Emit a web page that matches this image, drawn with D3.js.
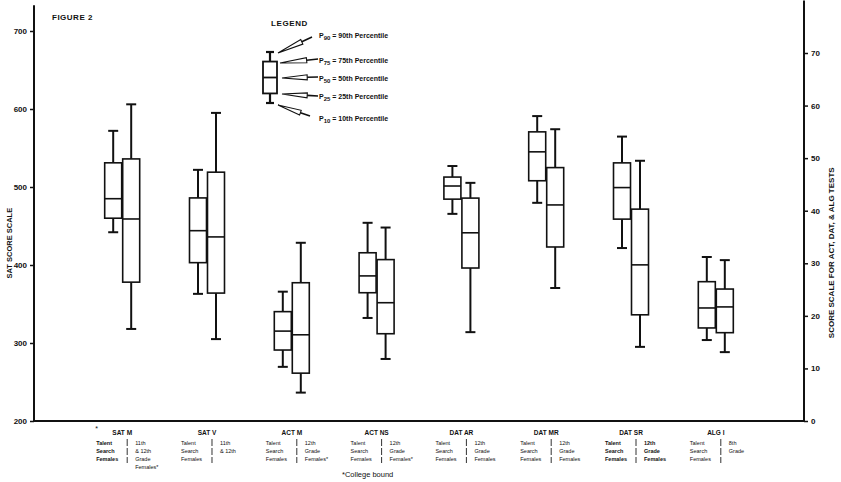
<!DOCTYPE html>
<html>
<head>
<meta charset="utf-8">
<script src="https://d3js.org/d3.v7.min.js"></script>
<style>
  body { margin: 0; background: #fff; }
  text { font-family: "Liberation Sans", Arial, sans-serif; fill: #111; }
</style>
</head>
<body>
<div id="cont"></div>
<script>
// test categories, left two are on the SAT scale, the rest on the right-hand scale
var categories = ["SAT M", "SAT V", "ACT M", "ACT NS", "DAT AR", "DAT MR", "DAT SR", "ALG I"];
var onSatScale = [true, true, false, false, false, false, false, false];

// percentiles P10, P25, P50, P75, P90
var talentSearch = [
    [442, 460, 485, 531, 572],
    [363, 403, 444, 486, 522],
    [10.3, 13.5, 17.1, 20.8, 24.6],
    [19.6, 24.4, 27.6, 32.0, 37.7],
    [39.4, 42.2, 44.7, 46.4, 48.5],
    [41.5, 45.7, 51.2, 55.0, 58.0],
    [32.9, 38.4, 44.4, 49.1, 54.1],
    [15.4, 17.7, 21.5, 26.5, 31.2]
];
var comparison = [
    [318, 378, 459, 536, 606],
    [305, 364, 436, 519, 595],
    [5.4, 9.1, 16.4, 26.3, 33.9],
    [11.8, 16.6, 22.5, 30.7, 36.8],
    [16.9, 29.1, 35.8, 42.4, 45.3],
    [25.3, 33.1, 41.1, 48.2, 55.5],
    [14.1, 20.2, 29.7, 40.3, 49.5],
    [13.1, 16.8, 21.7, 25.1, 30.6]
];

// group labels under the axis
var leftLabels = [
    ["Talent", "Search", "Females"],
    ["Talent", "Search", "Females"],
    ["Talent", "Search", "Females"],
    ["Talent", "Search", "Females"],
    ["Talent", "Search", "Females"],
    ["Talent", "Search", "Females"],
    ["Talent", "Search", "Females"],
    ["Talent", "Search", "Females"]
];
var rightLabels = [
    ["11th", "& 12th", "Grade", "Females*"],
    ["11th", "& 12th"],
    ["12th", "Grade", "Females*"],
    ["12th", "Grade", "Females*"],
    ["12th", "Grade", "Females"],
    ["12th", "Grade", "Females"],
    ["12th", "Grade", "Females"],
    ["8th", "Grade"]
];

var satTicks = [200, 300, 400, 500, 600, 700];
var scoreTicks = [0, 10, 20, 30, 40, 50, 60, 70];
var legendPct = ["90", "75", "50", "25", "10"];

var width = 841, height = 482;
var svg = d3.select("#cont").append("svg")
    .attr("width", width)
    .attr("height", height);

var x = d3.scalePoint()
    .domain(categories)
    .range([34, 804])
    .padding(1.04);

var ySat = d3.scaleLinear().domain([200, 700]).range([421, 31]);
var yScore = d3.scaleLinear().domain([0, 70]).range([421, 53]);

// axes
var leftAxis = svg.append("g")
    .attr("transform", "translate(34,0)")
    .call(d3.axisLeft(ySat).tickValues(satTicks).tickSize(4).tickPadding(3).tickFormat(d3.format("d")));
var rightAxis = svg.append("g")
    .attr("transform", "translate(804,0)")
    .call(d3.axisRight(yScore).tickValues(scoreTicks).tickSize(4).tickPadding(3).tickFormat(d3.format("d")));
[leftAxis, rightAxis].forEach(function(a) {
    a.select(".domain").remove();
    a.selectAll("line").attr("stroke", "#111").attr("stroke-width", 1.5);
    a.selectAll("text")
        .style("font-size", "8px")
        .style("font-weight", "bold")
        .attr("fill", "#111");
});

svg.append("line")
    .attr("x1", 34).attr("x2", 34)
    .attr("y1", ySat(200)).attr("y2", ySat(733))
    .attr("stroke", "#111").attr("stroke-width", 2);
svg.append("line")
    .attr("x1", 804).attr("x2", 804)
    .attr("y1", yScore(0)).attr("y2", yScore(80))
    .attr("stroke", "#111").attr("stroke-width", 2);
svg.append("line")
    .attr("x1", x.range()[0]).attr("x2", x.range()[1])
    .attr("y1", ySat(200)).attr("y2", ySat(200))
    .attr("stroke", "#111").attr("stroke-width", 2);

// axis titles
svg.append("text")
    .attr("transform", "translate(12," + ySat(428) + ") rotate(-90)")
    .attr("text-anchor", "middle")
    .style("font-size", "7.5px").style("font-weight", "bold")
    .text("SAT SCORE SCALE");
svg.append("text")
    .attr("transform", "translate(834," + yScore(32) + ") rotate(-90)")
    .attr("text-anchor", "middle")
    .style("font-size", "8px").style("font-weight", "bold")
    .text("SCORE SCALE FOR ACT, DAT, & ALG TESTS");

svg.append("text")
    .attr("x", 52).attr("y", 20)
    .style("font-size", "8px").style("font-weight", "bold")
    .style("letter-spacing", "0.5px")
    .text("FIGURE 2");

// boxes
var boxes = [];
categories.forEach(function(c, i) {
    var sc = onSatScale[i] ? ySat : yScore;
    boxes.push({ cat: c, side: -1, p: talentSearch[i], y: sc });
    boxes.push({ cat: c, side: 1, p: comparison[i], y: sc });
});

var boxW = 17, capW = 10;
var g = svg.append("g").selectAll("g")
    .data(boxes)
    .enter().append("g")
    .attr("transform", function(d) {
        return "translate(" + (x(d.cat) + d.side * (boxW / 2 + 0.5)) + ",0)";
    });

function drawBox(sel, w, cw, lw) {
    // whiskers
    sel.append("line")
        .attr("x1", 0).attr("x2", 0)
        .attr("y1", function(d) { return d.y(d.p[4]); })
        .attr("y2", function(d) { return d.y(d.p[3]); })
        .attr("stroke", "#111").attr("stroke-width", lw + 0.4);
    sel.append("line")
        .attr("x1", 0).attr("x2", 0)
        .attr("y1", function(d) { return d.y(d.p[1]); })
        .attr("y2", function(d) { return d.y(d.p[0]); })
        .attr("stroke", "#111").attr("stroke-width", lw + 0.4);
    [0, 4].forEach(function(k) {
        sel.append("line")
            .attr("x1", -cw / 2).attr("x2", cw / 2)
            .attr("y1", function(d) { return d.y(d.p[k]); })
            .attr("y2", function(d) { return d.y(d.p[k]); })
            .attr("stroke", "#111").attr("stroke-width", lw + 0.4);
    });
    sel.append("rect")
        .attr("x", -w / 2).attr("width", w)
        .attr("y", function(d) { return d.y(d.p[3]); })
        .attr("height", function(d) { return d.y(d.p[1]) - d.y(d.p[3]); })
        .attr("fill", "#fff")
        .attr("stroke", "#111").attr("stroke-width", lw);
    sel.append("line")
        .attr("x1", -w / 2).attr("x2", w / 2)
        .attr("y1", function(d) { return d.y(d.p[2]); })
        .attr("y2", function(d) { return d.y(d.p[2]); })
        .attr("stroke", "#111").attr("stroke-width", lw);
}
drawBox(g, boxW, capW, 1.6);

// labels under the axis
var lab = svg.append("g").selectAll("g")
    .data(categories)
    .enter().append("g")
    .attr("transform", function(d) { return "translate(" + x(d) + ",0)"; });

lab.append("text")
    .attr("x", 0).attr("y", 435)
    .attr("text-anchor", "middle")
    .style("font-size", "6.5px").style("font-weight", "bold")
    .text(function(d) { return d; });

lab.append("line")
    .attr("x1", 5).attr("x2", 5)
    .attr("y1", 439).attr("y2", 463)
    .attr("stroke", "#333").attr("stroke-width", 1)
    .attr("stroke-dasharray", "7,2");

lab.each(function(d, i) {
    var el = d3.select(this);
    leftLabels[i].forEach(function(t, r) {
        el.append("text")
            .attr("x", -26).attr("y", 445 + r * 8)
            .style("font-size", "5.5px")
            .attr("fill", "#333")
            .style("font-weight", i === 0 || i === 6 ? "bold" : "normal")
            .text(t);
    });
    rightLabels[i].forEach(function(t, r) {
        el.append("text")
            .attr("x", 13).attr("y", 445 + r * 8)
            .style("font-size", "5.5px")
            .attr("fill", "#333")
            .style("font-weight", i === 6 ? "bold" : "normal")
            .text(t);
    });
});

svg.append("text")
    .attr("x", x(categories[0]) - 27).attr("y", 431)
    .style("font-size", "7px")
    .text("*");

svg.append("text")
    .attr("x", 342).attr("y", 477)
    .style("font-size", "7.5px")
    .text("*College bound");

// legend
var legX = 270;
var ly = d3.scaleLinear().domain([10, 90]).range([103, 52]);
var legBox = svg.append("g").attr("transform", "translate(" + legX + ",0)")
    .datum({ p: [10, 25, 50, 75, 90], y: ly });
drawBox(legBox, 14, 8, 1.8);

svg.append("text")
    .attr("x", 271).attr("y", 26)
    .style("font-size", "8px").style("font-weight", "bold")
    .style("letter-spacing", "0.6px")
    .text("LEGEND");

var legText = [38, 63, 81, 99, 121];
var legTip = [[278, 53], [280, 63], [282, 78], [282, 94], [278, 105]];
var legTail = [[312, 37], [318, 59], [318, 77], [318, 96], [310, 116]];

legendPct.forEach(function(p, i) {
    var t = svg.append("text")
        .attr("x", 319).attr("y", legText[i])
        .style("font-size", "7px").style("font-weight", "bold");
    t.append("tspan").text("P");
    t.append("tspan").attr("dy", 2).style("font-size", "6px").text(p);
    t.append("tspan").attr("dy", -2).text(" = " + p + "th Percentile");

    // pointer: long thin arrowhead with a short shaft
    var a = legTip[i], b = legTail[i];
    var dx = b[0] - a[0], dy = b[1] - a[1];
    var len = Math.sqrt(dx * dx + dy * dy);
    var ux = dx / len, uy = dy / len, nx = -uy, ny = ux;
    var hb = [a[0] + ux * len * 0.7, a[1] + uy * len * 0.7];
    svg.append("path")
        .attr("d", "M" + a[0] + "," + a[1] +
            "L" + (hb[0] + nx * 2.5) + "," + (hb[1] + ny * 2.5) +
            "L" + (hb[0] - nx * 2.5) + "," + (hb[1] - ny * 2.5) + "Z")
        .attr("fill", "#fff").attr("stroke", "#111").attr("stroke-width", 1.1);
    svg.append("line")
        .attr("x1", hb[0]).attr("y1", hb[1])
        .attr("x2", b[0]).attr("y2", b[1])
        .attr("stroke", "#111").attr("stroke-width", 1.6);
});
</script>
</body>
</html>
